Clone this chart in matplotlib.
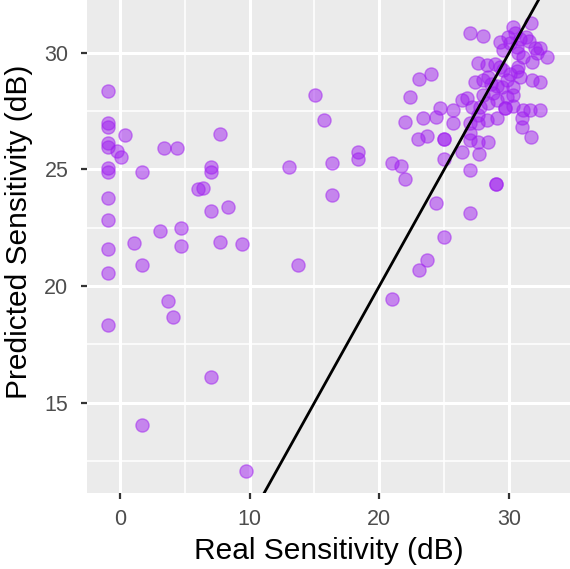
import matplotlib
matplotlib.use("Agg")
import matplotlib.pyplot as plt
from matplotlib.ticker import MultipleLocator

plt.rcParams['font.family'] = ['Liberation Sans', 'DejaVu Sans']

real = [
    -0.95, -0.95, -0.95, 0.39, -0.95, -0.95, -0.26, 0.08, 3.39, 4.39, 7.68,
    -0.95, -0.95, 1.72, 7.04, 7.04, 6.04, 6.37, -0.95, 7.04, 8.35, -0.95,
    3.06, 4.70, 1.05, 4.70, 7.68, 9.38, -0.95, 1.72, -0.95, 3.73, 4.06,
    -0.95, 7.04, 1.72, 9.71,
    15.03, 15.70, 13.03, 16.37, 18.33, 18.33, 16.37, 13.70, 21.00, 21.69,
    22.00, 24.34, 25.00, 23.69, 23.03, 21.00, 23.03, 24.00, 22.36, 24.67,
    22.00, 23.33, 24.34, 23.00, 23.70, 25.00, 25.00, 25.00, 26.99, 28.99,
    28.99, 26.99, 26.34, 27.68, 31.66,
    26.99, 28.01, 29.30, 29.94, 30.33, 30.46, 30.84, 31.30, 31.69, 31.56,
    30.07, 30.58, 32.00, 32.38, 32.90, 32.13, 31.74, 31.10, 30.71, 27.63,
    28.32, 28.91, 29.30, 30.71, 30.58, 30.84, 30.07, 29.81, 29.55, 27.37,
    28.01, 28.58, 29.09, 29.43, 31.74, 32.38, 30.33, 30.33, 28.78, 28.01,
    26.34, 26.73, 27.12, 27.76, 28.40, 29.04, 29.68, 29.68, 30.33, 31.61,
    32.38, 30.97, 30.97, 27.63, 28.27, 29.04, 26.99, 27.63, 25.70, 25.70,
    26.99, 26.99, 27.63, 28.40, 29.81, 28.40, 29.55, 31.10,
]
predicted = [
    28.38, 27.00, 26.81, 26.48, 26.15, 25.98, 25.81, 25.52, 25.94, 25.94, 26.50,
    25.08, 24.91, 24.91, 25.12, 24.89, 24.15, 24.19, 23.78, 23.23, 23.38, 22.83,
    22.36, 22.49, 21.83, 21.73, 21.90, 21.79, 21.60, 20.90, 20.56, 19.34, 18.67,
    18.33, 16.09, 14.02, 12.05,
    28.20, 27.12, 25.09, 25.28, 25.76, 25.44, 23.91, 20.91, 25.29, 25.15,
    24.59, 23.58, 22.09, 21.10, 20.67, 19.43, 28.87, 29.09, 28.10, 27.65,
    27.04, 27.22, 27.24, 26.32, 26.42, 26.30, 26.30, 25.46, 24.98, 24.36,
    24.36, 23.15, 25.76, 25.67, 26.40,
    30.84, 30.73, 30.47, 30.70, 31.10, 30.84, 30.59, 30.67, 31.30, 30.49,
    30.42, 30.27, 30.20, 30.20, 29.84, 29.99, 29.63, 29.84, 29.99, 29.56,
    29.49, 29.53, 29.41, 29.41, 29.24, 28.96, 29.10, 28.84, 29.27, 28.77,
    28.84, 28.67, 28.58, 28.53, 28.84, 28.77, 28.55, 28.20, 28.27, 28.20,
    27.98, 28.06, 27.70, 27.70, 27.84, 27.98, 27.63, 27.63, 27.73, 27.55,
    27.55, 27.20, 26.84, 27.34, 27.12, 27.20, 26.98, 26.98, 26.98, 27.55,
    26.55, 26.27, 26.19, 26.19, 28.13, 28.98, 30.13, 27.55,
]

x_ticks = [0, 10, 20, 30]
y_ticks = [15, 20, 25, 30]
x_label = "Real Sensitivity (dB)"
y_label = "Predicted Sensitivity (dB)"

W, H = 570, 569
fig = plt.figure(figsize=(W / 100, H / 100), dpi=100)
ax = fig.add_axes([87 / W, 76 / H, 483 / W, 493 / H])
ax.set_facecolor("#EBEBEB")
for s in ax.spines.values():
    s.set_visible(False)

ax.set_xlim(-2.54, 34.70)
ax.set_ylim(11.12, 32.27)
ax.set_xticks(x_ticks)
ax.set_yticks(y_ticks)
ax.xaxis.set_minor_locator(MultipleLocator(5))
ax.yaxis.set_minor_locator(MultipleLocator(2.5))
ax.grid(which="major", color="white", linewidth=2.2)
ax.grid(which="minor", color="white", linewidth=1.1)
ax.set_axisbelow(True)
ax.tick_params(which="minor", length=0)
ax.tick_params(which="major", length=4.5, width=1.6, color="#333333",
               labelsize=15.5, labelcolor="#4D4D4D")
ax.tick_params(axis="x", pad=7)
ax.tick_params(axis="y", pad=9)

ax.scatter(real, predicted, s=90, facecolor="#A020F0", edgecolor="#A020F0",
           alpha=0.5, linewidths=1.0, zorder=3)
ax.axline((0, 0), slope=1, color="black", linewidth=2.0, zorder=4)

ax.set_xlabel(x_label, fontsize=21.5, color="black", labelpad=5)
ax.set_ylabel(y_label, fontsize=21.5, color="black", labelpad=4)
ax.yaxis.set_label_coords((33 - 87) / 483, (493 - 232) / 493)

fig.savefig("out.png", dpi=100)
